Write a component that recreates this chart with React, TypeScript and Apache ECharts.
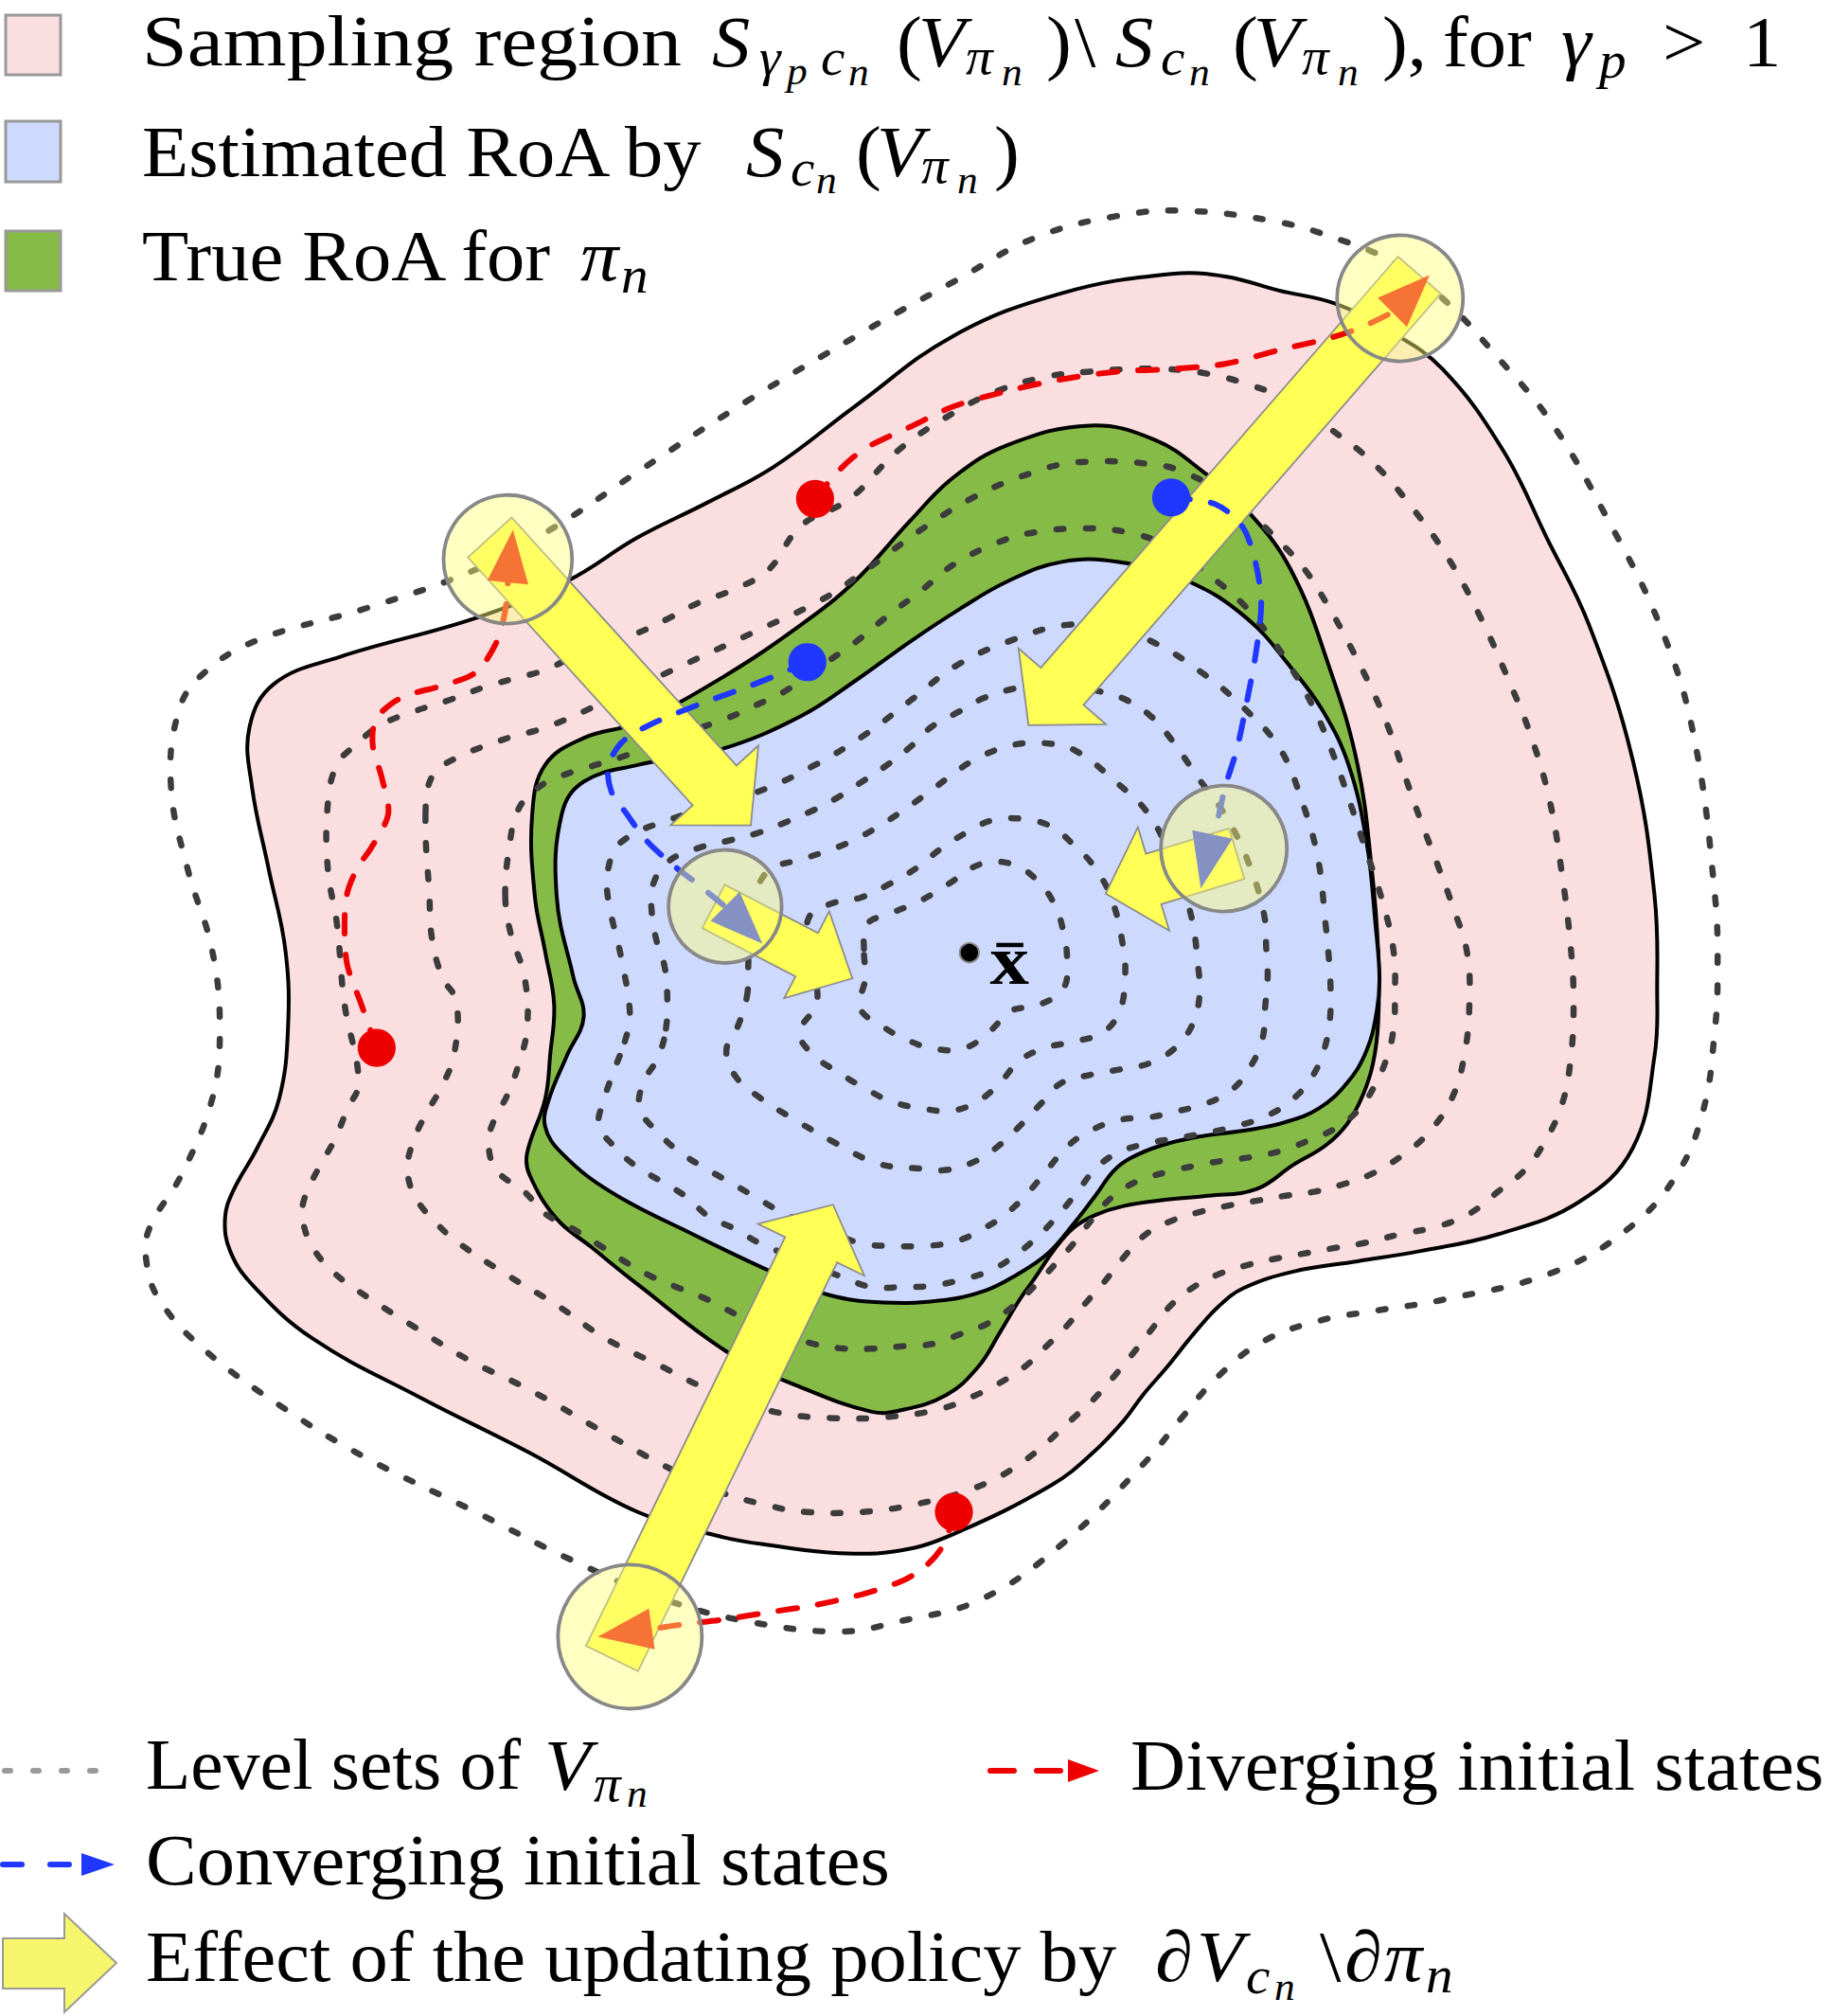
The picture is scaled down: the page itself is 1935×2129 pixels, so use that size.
import React, { useEffect, useRef } from "react";
import * as echarts from "echarts";

const CANVAS_WIDTH = 1935;
const CANVAS_HEIGHT = 2129;
const X_RANGE = 1425;
const Y_RANGE = 1568;

// ---------- regions (diagram units) ----------
const SAMPLING_REGION = [
  [196, 612], [194, 566], [213, 532], [264, 511], [369, 481], [441, 452], [496, 418], [550, 391], [602, 363],
  [665, 316], [742, 261], [826, 228], [911, 213], [953, 215], [995, 226], [1038, 236], [1080, 257], [1122, 287],
  [1169, 350], [1203, 418], [1236, 486], [1270, 591], [1287, 697], [1289, 770], [1287, 821], [1270, 893],
  [1228, 935], [1165, 960], [1105, 973], [1056, 981], [1006, 989], [967, 1002], [948, 1016], [928, 1038],
  [908, 1063], [889, 1085], [874, 1105], [850, 1130], [818, 1155], [742, 1193], [700, 1206], [653, 1208],
  [600, 1202], [560, 1195], [496, 1176], [412, 1130], [327, 1087], [243, 1041], [196, 999], [179, 973],
  [175, 948], [181, 927], [200, 893], [217, 855], [224, 800], [222, 739], [209, 676],
];
const TRUE_ROA = [
  [416, 697], [414, 633], [424, 595], [454, 574], [496, 562], [560, 528], [623, 486], [665, 452], [708, 405],
  [742, 371], [784, 346], [848, 331], [898, 342], [936, 367], [970, 397], [1004, 443], [1034, 519], [1056, 595],
  [1067, 676], [1072, 740], [1072, 795], [1068, 827], [1060, 852], [1048, 874], [1031, 891], [1006, 906],
  [977, 925], [940, 930], [908, 933], [874, 938], [852, 945], [835, 955], [820, 972], [805, 994], [793, 1011],
  [778, 1036], [761, 1063], [736, 1085], [700, 1097], [678, 1098], [623, 1079], [568, 1053], [496, 999],
  [460, 970], [433, 948], [412, 914], [410, 897], [424, 855], [428, 820], [431, 781], [424, 740],
];
const ESTIMATED_ROA = [
  [433, 697], [437, 633], [454, 608], [496, 595], [560, 583], [623, 557], [666, 529], [708, 499], [746, 474],
  [784, 452], [826, 437], [869, 437], [924, 452], [970, 481], [1004, 519], [1029, 553], [1049, 595], [1063, 655],
  [1070, 720], [1073, 760], [1071, 786], [1063, 817], [1048, 842], [1026, 862], [999, 873], [970, 879],
  [933, 884], [903, 891], [879, 901], [866, 911], [852, 930], [835, 952], [815, 975], [790, 992], [766, 1004],
  [736, 1011], [687, 1013], [644, 1007], [602, 990], [539, 960], [475, 927], [437, 897], [424, 876], [427, 855],
  [441, 821], [454, 791], [446, 760],
];

// ---------- level sets of V (innermost first) ----------
const LEVEL_SET_1 = [
  [672, 738], [674, 719], [694, 710], [717, 700], [737, 688], [763, 672], [787, 672], [806, 684], [820, 703],
  [827, 724], [830, 747], [827, 769], [807, 782], [787, 786], [770, 802], [751, 815], [728, 816], [706, 809],
  [686, 798], [669, 784], [673, 761],
];
const LEVEL_SET_2 = [
  [630, 740], [629, 714], [646, 703], [670, 698], [691, 688], [713, 675], [732, 660], [751, 648], [772, 638],
  [796, 637], [818, 643], [835, 657], [851, 674], [865, 700], [874, 739], [875, 762], [871, 786], [858, 803],
  [836, 810], [813, 815], [793, 825], [778, 842], [760, 857], [739, 864], [717, 862], [694, 857], [672, 846],
  [652, 834], [632, 820], [622, 803], [635, 781], [634, 760],
];
const LEVEL_SET_3 = [
  [581, 775], [582, 752], [583, 710], [590, 688], [601, 675], [621, 669], [643, 662], [663, 654], [683, 643],
  [703, 630], [728, 612], [748, 597], [768, 586], [790, 579], [812, 578], [835, 583], [869, 609], [894, 634],
  [911, 668], [926, 710], [932, 752], [933, 775], [927, 798], [913, 816], [894, 827], [870, 832], [848, 836],
  [826, 842], [810, 858], [794, 875], [777, 891], [759, 903], [736, 910], [717, 909], [683, 905], [650, 889],
  [620, 872], [590, 853], [572, 837], [565, 817], [574, 798],
];
const LEVEL_SET_4 = [
  [518, 800], [519, 775], [517, 752], [511, 733], [507, 710], [508, 688], [520, 670], [542, 660], [566, 654],
  [589, 648], [610, 640], [631, 631], [652, 620], [669, 609], [690, 595], [708, 581], [725, 565], [745, 554],
  [765, 543], [787, 536], [810, 533], [831, 533], [852, 537], [873, 543], [894, 556], [911, 575], [932, 605],
  [953, 634], [970, 668], [983, 710], [985, 739], [986, 761], [984, 784], [982, 808], [973, 829], [959, 847],
  [939, 858], [917, 864], [894, 869], [871, 871], [849, 879], [831, 891], [816, 908], [802, 925], [784, 943],
  [766, 955], [745, 965], [721, 969], [695, 969], [670, 967], [640, 956], [610, 944], [591, 933], [572, 922],
  [551, 910], [530, 897], [513, 882], [498, 863], [500, 843], [512, 822],
];
const LEVEL_SET_5 = [
  [486, 810], [490, 789], [483, 744], [473, 699], [473, 676], [483, 655], [525, 636], [589, 616], [632, 596],
  [672, 572], [708, 545], [745, 517], [787, 498], [830, 486], [862, 489], [894, 498], [936, 524], [970, 553],
  [996, 583], [1012, 621], [1025, 667], [1031, 718], [1034, 750], [1035, 773], [1034, 797], [1029, 819],
  [1019, 840], [1003, 857], [983, 869], [961, 876], [939, 881], [917, 885], [894, 889], [871, 896], [853, 908],
  [838, 927], [824, 944], [808, 961], [790, 976], [771, 988], [749, 995], [725, 1000], [703, 1001], [678, 1001],
  [657, 994], [615, 977], [591, 967], [572, 956], [551, 946], [534, 931], [513, 918], [496, 908], [479, 893],
  [466, 875], [470, 855], [477, 834],
];
const LEVEL_SET_6 = [
  [393, 697], [396, 660], [403, 630], [418, 613], [438, 603], [460, 596], [483, 589], [525, 573], [567, 558],
  [589, 548], [610, 538], [646, 513], [666, 499], [683, 485], [697, 474], [717, 459], [742, 439], [776, 422],
  [805, 414], [843, 411], [877, 414], [911, 426], [940, 447], [966, 469], [987, 494], [1004, 519], [1021, 549],
  [1034, 579], [1046, 612], [1060, 654], [1075, 700], [1084, 740], [1085, 778], [1084, 800], [1079, 822],
  [1070, 843], [1057, 863], [1038, 878], [1018, 887], [997, 895], [973, 900], [950, 903], [928, 907], [906, 912],
  [884, 919], [864, 932], [849, 949], [836, 966], [821, 983], [805, 1000], [788, 1016], [767, 1030], [746, 1038],
  [727, 1045], [703, 1047], [678, 1049], [657, 1049], [632, 1045], [600, 1035], [572, 1022], [551, 1011],
  [526, 1001], [505, 992], [484, 980], [467, 969], [446, 956], [424, 944], [408, 927], [386, 910], [380, 889],
  [384, 872], [395, 851], [403, 829], [410, 800], [408, 760], [397, 725],
];
const LEVEL_SET_7 = [
  [331, 633], [336, 604], [352, 591], [395, 574], [424, 566], [470, 546], [530, 518], [590, 490], [640, 466],
  [674, 443], [708, 418], [733, 401], [755, 388], [780, 376], [805, 367], [826, 361], [848, 359], [873, 359],
  [894, 361], [915, 365], [953, 384], [974, 401], [996, 422], [1015, 443], [1034, 473], [1050, 502], [1067, 536],
  [1080, 566], [1093, 604], [1105, 638], [1118, 672], [1130, 705], [1141, 740], [1143, 779], [1139, 821],
  [1129, 855], [1112, 880], [1093, 897], [1067, 913], [1045, 921], [1022, 927], [1000, 930], [977, 934],
  [954, 938], [932, 943], [910, 950], [890, 961], [874, 978], [859, 997], [844, 1014], [830, 1031], [814, 1047],
  [797, 1063], [777, 1076], [757, 1086], [731, 1096], [691, 1102], [649, 1103], [602, 1098], [556, 1083],
  [513, 1062], [471, 1041], [433, 1015], [395, 992], [357, 967], [340, 952], [323, 931], [317, 910], [321, 889],
  [331, 867], [342, 848], [353, 821], [355, 779], [344, 760], [336, 730], [334, 697],
];
const LEVEL_SET_8 = [
  [255, 676], [255, 625], [262, 595], [277, 579], [296, 564], [323, 553], [348, 545], [378, 534], [399, 528],
  [424, 521], [454, 507], [492, 494], [520, 481], [543, 469], [572, 458], [598, 443], [623, 409], [661, 388],
  [699, 350], [742, 321], [776, 304], [814, 293], [848, 289], [881, 287], [907, 287], [941, 291], [974, 300],
  [1004, 312], [1034, 333], [1067, 359], [1097, 393], [1127, 435], [1152, 481], [1173, 528], [1190, 570],
  [1205, 621], [1215, 680], [1222, 739], [1224, 779], [1222, 821], [1215, 859], [1201, 889], [1186, 910],
  [1165, 927], [1143, 944], [1118, 954], [1089, 960], [1060, 967], [1036, 971], [1014, 975], [992, 979],
  [970, 984], [948, 991], [927, 1002], [910, 1016], [895, 1035], [881, 1053], [867, 1070], [851, 1088],
  [836, 1102], [797, 1136], [759, 1157], [712, 1170], [670, 1176], [627, 1176], [602, 1172], [556, 1159],
  [513, 1138], [475, 1117], [412, 1081], [365, 1058], [319, 1030], [277, 1003], [260, 990], [245, 973],
  [236, 952], [236, 935], [247, 910], [260, 887], [270, 863], [279, 842], [268, 781], [262, 718],
];
const LEVEL_SET_9 = [
  [133, 612], [139, 553], [158, 524], [200, 498], [285, 473], [370, 443], [433, 409], [496, 367], [581, 312],
  [665, 262], [700, 242], [742, 219], [805, 185], [869, 168], [924, 164], [996, 173], [1038, 185], [1080, 202],
  [1122, 232], [1165, 278], [1207, 329], [1249, 401], [1291, 486], [1317, 570], [1334, 697], [1336, 760],
  [1334, 800], [1325, 863], [1304, 914], [1266, 956], [1207, 990], [1122, 1011], [1073, 1019], [1027, 1027],
  [983, 1043], [948, 1070], [919, 1103], [890, 1138], [826, 1201], [763, 1244], [700, 1261], [653, 1269],
  [581, 1261], [517, 1244], [446, 1214], [370, 1176], [285, 1134], [222, 1096], [158, 1049], [124, 1011],
  [114, 982], [116, 956], [141, 914], [165, 855], [171, 800], [165, 739], [146, 676],
];

// ---------- trajectories ----------
const DIVERGING_PATH_1 = [
  [634, 388], [648, 371], [662, 357], [678, 346], [708, 332], [742, 316], [784, 304], [826, 295], [869, 289],
  [911, 287], [953, 283], [996, 272], [1034, 263], [1058, 255], [1083, 243],
];
const DIVERGING_TIP_1 = [1112, 214];
const DIVERGING_PATH_2 = [
  [293, 815], [281, 781], [270, 750], [268, 720], [270, 695], [278, 675], [289, 659], [302, 633], [297, 605],
  [290, 580], [292, 560], [305, 547], [319, 540], [345, 533], [370, 523], [386, 500], [393, 475], [395, 453],
];
const DIVERGING_TIP_2 = [399, 412];
const DIVERGING_PATH_3 = [
  [742, 1176], [738, 1191], [731, 1206], [720, 1218], [703, 1229], [674, 1239], [636, 1248], [598, 1254],
  [560, 1260], [534, 1263], [507, 1267],
];
const DIVERGING_TIP_3 = [465, 1273];
const CONVERGING_PATH_1 = [
  [628, 515], [607, 524], [582, 534], [546, 547], [505, 564], [483, 578], [473, 597], [476, 617], [486, 631],
  [503, 654], [525, 674], [538, 684], [564, 705],
];
const CONVERGING_TIP_1 = [593, 734];
const CONVERGING_PATH_2 = [
  [911, 387], [945, 392], [966, 409], [976, 435], [981, 469], [977, 507], [970, 545], [962, 583], [953, 612],
  [947, 638], [943, 649],
];
const CONVERGING_TIP_2 = [934, 691];
const DIVERGING_STARTS = [[634, 388], [293, 815], [742, 1176]];
const CONVERGING_STARTS = [[628, 515], [911, 387]];

// ---------- policy update arrows ----------
const ARROW_TAILS = [[381, 418], [1104, 214], [476, 1290], [555, 705], [962, 664]];
const ARROW_TIPS = [[584, 642], [800, 564], [648, 937], [663, 761], [860, 695]];
const CIRCLE_CENTERS = [[395, 435], [1089, 232], [490, 1273], [564, 705], [952, 660]];
const CIRCLE_RADII = [50, 49, 56, 44, 49];
const EQUILIBRIUM = [754, 741];

// ---------- styles ----------
const ARROW_SHAFT = [46, 44, 45, 38, 41];
const ARROW_HEAD = [92, 90, 92, 76, 84];
const ARROW_HEAD_LEN = [42, 40, 39, 40, 39];
const PINK = "#FADEE0";
const BLUE = "#CED9FE";
const GREEN = "#86BB47";
const YELLOW = "#FFFF55";
const RED = "#EE0000";
const TRAJ_BLUE = "#1F37FF";
const LEVEL_GREY = "#3c3c3c";
const SERIF = "Liberation Serif, Times New Roman, serif";

const REGIONS = [
  { points: SAMPLING_REGION, fill: PINK },
  { points: TRUE_ROA, fill: GREEN },
  { points: ESTIMATED_ROA, fill: BLUE },
];
const LEVEL_SETS = [LEVEL_SET_9, LEVEL_SET_8, LEVEL_SET_7, LEVEL_SET_6, LEVEL_SET_5, LEVEL_SET_4, LEVEL_SET_3, LEVEL_SET_2, LEVEL_SET_1];
const TRAJECTORIES = [
  { path: DIVERGING_PATH_1, tip: DIVERGING_TIP_1, color: RED },
  { path: DIVERGING_PATH_2, tip: DIVERGING_TIP_2, color: RED },
  { path: DIVERGING_PATH_3, tip: DIVERGING_TIP_3, color: RED },
  { path: CONVERGING_PATH_1, tip: CONVERGING_TIP_1, color: TRAJ_BLUE },
  { path: CONVERGING_PATH_2, tip: CONVERGING_TIP_2, color: TRAJ_BLUE },
];
const DOTS = [
  ...DIVERGING_STARTS.map((p) => ({ p, color: RED })),
  ...CONVERGING_STARTS.map((p) => ({ p, color: TRAJ_BLUE })),
];

function dir(a: number[], b: number[]) {
  const dx = b[0] - a[0];
  const dy = b[1] - a[1];
  const l = Math.hypot(dx, dy) || 1;
  return [dx / l, dy / l];
}

function blockArrow(tail: number[], tip: number[], shaft: number, head: number, headLen: number) {
  const [ux, uy] = dir(tail, tip);
  const nx = -uy;
  const ny = ux;
  const bx = tip[0] - ux * headLen;
  const by = tip[1] - uy * headLen;
  const s = shaft / 2;
  const h = head / 2;
  return [
    [tail[0] + nx * s, tail[1] + ny * s],
    [bx + nx * s, by + ny * s],
    [bx + nx * h, by + ny * h],
    [tip[0], tip[1]],
    [bx - nx * h, by - ny * h],
    [bx - nx * s, by - ny * s],
    [tail[0] - nx * s, tail[1] - ny * s],
  ];
}

function label(x: number, baseline: number, text: string, size: number, italic = false, stretch = 1.06) {
  return {
    type: "text",
    x,
    y: baseline - size * 0.34,
    scaleX: stretch,
    silent: true,
    style: {
      text,
      fontSize: size,
      fontFamily: SERIF,
      fontStyle: italic ? "italic" : "normal",
      fill: "#000",
      align: "left",
      verticalAlign: "middle",
    },
  };
}

const F = 76;
const SUB = 54;
const SUBSUB = 41;
const B1 = 70;
const B2 = 186;
const B3 = 296;

const legendElements: any[] = [
  { type: "rect", shape: { x: 6, y: 16, width: 58, height: 63 }, style: { fill: PINK, stroke: "#999", lineWidth: 3 } },
  { type: "rect", shape: { x: 6, y: 128, width: 58, height: 64 }, style: { fill: BLUE, stroke: "#999", lineWidth: 3 } },
  { type: "rect", shape: { x: 6, y: 244, width: 58, height: 63 }, style: { fill: GREEN, stroke: "#999", lineWidth: 3 } },
  // line 1
  label(150, B1, "Sampling region", F, false, 1.13),
  label(752, B1, "S", F, true),
  label(802, B1 + 9, "γ", SUB, true),
  label(831, B1 + 19, "p", SUBSUB, true),
  label(867, B1 + 9, "c", SUB, true),
  label(896, B1 + 20, "n", SUBSUB, true),
  label(947, B1, "(", F),
  label(970, B1, "V", F, true),
  label(1020, B1 + 8, "π", SUB, true),
  label(1058, B1 + 20, "n", SUBSUB, true),
  label(1105, B1, ")", F),
  label(1135, B1, "\\", F),
  label(1178, B1, "S", F, true),
  label(1226, B1 + 9, "c", SUB, true),
  label(1256, B1 + 20, "n", SUBSUB, true),
  label(1302, B1, "(", F),
  label(1324, B1, "V", F, true),
  label(1375, B1 + 8, "π", SUB, true),
  label(1413, B1 + 20, "n", SUBSUB, true),
  label(1460, B1, "),", F),
  label(1524, B1, "for", F),
  label(1649, B1, "γ", F, true),
  label(1689, B1 + 12, "p", SUB, true),
  label(1756, B1, ">", F),
  label(1841, B1, "1", F),
  // line 2
  label(150, B2, "Estimated RoA by", F),
  label(788, B2, "S", F, true),
  label(835, B2 + 10, "c", SUB, true),
  label(862, B2 + 18, "n", SUBSUB, true),
  label(904, B2, "(", F),
  label(926, B2, "V", F, true),
  label(973, B2 + 7, "π", SUB, true),
  label(1011, B2 + 18, "n", SUBSUB, true),
  label(1050, B2, ")", F),
  // line 3
  label(150, B3, "True RoA for", F),
  label(613, B3, "π", F, true),
  label(656, B3 + 13, "n", SUB, true),
  // bottom legend
  {
    type: "polyline",
    shape: { points: [[5, 1870], [105, 1870]] },
    style: { stroke: "#9a9a9a", lineWidth: 6, lineDash: [6, 24], lineCap: "round", fill: "none" },
  },
  label(154, 1890, "Level sets of", F, false, 1.02),
  label(575, 1890, "V", F, true),
  label(627, 1902, "π", SUB, true),
  label(662, 1908, "n", SUBSUB, true),
  {
    type: "polyline",
    shape: { points: [[1046, 1870], [1126, 1870]] },
    style: { stroke: RED, lineWidth: 6, lineDash: [25, 24], lineCap: "round", fill: "none" },
  },
  { type: "polygon", shape: { points: [[1128, 1858], [1161, 1870], [1128, 1882]] }, style: { fill: RED } },
  label(1194, 1890, "Diverging initial states", F),
  {
    type: "polyline",
    shape: { points: [[3, 1969], [80, 1969]] },
    style: { stroke: TRAJ_BLUE, lineWidth: 6, lineDash: [20, 30], lineCap: "round", fill: "none" },
  },
  { type: "polygon", shape: { points: [[86, 1957], [121, 1969], [86, 1981]] }, style: { fill: TRAJ_BLUE } },
  label(154, 1990, "Converging initial states", F),
  {
    type: "polygon",
    shape: {
      points: [[3, 2047], [68, 2047], [68, 2021], [123, 2073], [68, 2125], [68, 2100], [3, 2100]],
    },
    style: { fill: "#F6F66C", stroke: "#999", lineWidth: 2 },
  },
  label(154, 2092, "Effect of the updating policy by", F),
  label(1220, 2092, "∂", F),
  label(1264, 2092, "V", F, true),
  label(1316, 2105, "c", SUB, true),
  label(1346, 2112, "n", SUBSUB, true),
  label(1394, 2092, "\\", F),
  label(1420, 2092, "∂", F),
  label(1462, 2092, "π", F, true),
  label(1506, 2104, "n", SUB, true),
];

const option: any = {
  animation: false,
  backgroundColor: "#ffffff",
  grid: { left: 0, right: 0, top: 0, bottom: 0, containLabel: false },
  xAxis: { type: "value", min: 0, max: X_RANGE, show: false },
  yAxis: { type: "value", min: 0, max: Y_RANGE, inverse: true, show: false },
  tooltip: { show: false },
  series: [
    {
      type: "custom",
      name: "regions",
      coordinateSystem: "cartesian2d",
      z: 1,
      silent: true,
      data: REGIONS.map((_, i) => [i, 0]),
      renderItem: (params: any, api: any) => {
        const r = REGIONS[params.dataIndex];
        return {
          type: "polygon",
          shape: { points: r.points.map((p) => api.coord(p)), smooth: 0.4 },
          style: { fill: r.fill, stroke: "#000", lineWidth: 4 },
        };
      },
    },
    {
      type: "custom",
      name: "level sets",
      coordinateSystem: "cartesian2d",
      z: 2,
      silent: true,
      data: LEVEL_SETS.map((_, i) => [i, 0]),
      renderItem: (params: any, api: any) => {
        const pts = LEVEL_SETS[params.dataIndex];
        return {
          type: "polygon",
          shape: { points: pts.map((p) => api.coord(p)), smooth: 0.4 },
          style: { fill: "none", stroke: LEVEL_GREY, lineWidth: 6.5, lineDash: [7.5, 23.5], lineCap: "round" },
        };
      },
    },
    {
      type: "custom",
      name: "policy arrows",
      coordinateSystem: "cartesian2d",
      z: 3,
      silent: true,
      data: ARROW_TAILS.map((_, i) => [i, 0]),
      renderItem: (params: any, api: any) => {
        const i = params.dataIndex;
        const poly = blockArrow(ARROW_TAILS[i], ARROW_TIPS[i], ARROW_SHAFT[i], ARROW_HEAD[i], ARROW_HEAD_LEN[i]);
        return {
          type: "polygon",
          shape: { points: poly.map((p) => api.coord(p)) },
          style: { fill: YELLOW, stroke: "#8c8c8c", lineWidth: 1.8 },
        };
      },
    },
    {
      type: "custom",
      name: "trajectories",
      coordinateSystem: "cartesian2d",
      z: 4,
      silent: true,
      data: TRAJECTORIES.map((_, i) => [i, 0]),
      renderItem: (params: any, api: any) => {
        const t = TRAJECTORIES[params.dataIndex];
        const base = t.path[t.path.length - 1];
        const [ux, uy] = dir(base, t.tip);
        const hw = 16;
        const head = [
          [t.tip[0], t.tip[1]],
          [base[0] - uy * hw, base[1] + ux * hw],
          [base[0] + uy * hw, base[1] - ux * hw],
        ];
        return {
          type: "group",
          children: [
            {
              type: "polyline",
              shape: { points: t.path.map((p) => api.coord(p)), smooth: 0.3 },
              style: { fill: "none", stroke: t.color, lineWidth: 6, lineDash: [20, 22], lineCap: "round" },
            },
            {
              type: "polygon",
              shape: { points: head.map((p) => api.coord(p)) },
              style: { fill: t.color },
            },
          ],
        };
      },
    },
    {
      type: "custom",
      name: "initial states",
      coordinateSystem: "cartesian2d",
      z: 5,
      silent: true,
      data: DOTS.map((_, i) => [i, 0]),
      renderItem: (params: any, api: any) => {
        const d = DOTS[params.dataIndex];
        const c = api.coord(d.p);
        return {
          type: "circle",
          shape: { cx: c[0], cy: c[1], r: api.size([14.8, 0])[0] },
          style: { fill: d.color },
        };
      },
    },
    {
      type: "custom",
      name: "circles",
      coordinateSystem: "cartesian2d",
      z: 6,
      silent: true,
      data: CIRCLE_CENTERS.map((_, i) => [i, 0]),
      renderItem: (params: any, api: any) => {
        const i = params.dataIndex;
        const c = api.coord(CIRCLE_CENTERS[i]);
        return {
          type: "circle",
          shape: { cx: c[0], cy: c[1], r: api.size([CIRCLE_RADII[i], 0])[0] },
          style: { fill: "rgba(255,255,120,0.45)", stroke: "#888888", lineWidth: 3.8 },
        };
      },
    },
    {
      type: "custom",
      name: "equilibrium",
      coordinateSystem: "cartesian2d",
      z: 7,
      silent: true,
      data: [[0, 0]],
      renderItem: (params: any, api: any) => {
        const c = api.coord(EQUILIBRIUM);
        const lab = api.coord([EQUILIBRIUM[0] + 16, EQUILIBRIUM[1] + 24]);
        const bar0 = api.coord([EQUILIBRIUM[0] + 21, EQUILIBRIUM[1] - 6]);
        const bar1 = api.coord([EQUILIBRIUM[0] + 42, EQUILIBRIUM[1] - 6]);
        return {
          type: "group",
          children: [
            {
              type: "circle",
              shape: { cx: c[0], cy: c[1], r: api.size([7.5, 0])[0] },
              style: { fill: "#000", stroke: "#888", lineWidth: 2 },
            },
            {
              type: "text",
              x: lab[0],
              y: lab[1] - 74 * 0.34,
              scaleX: 1.12,
              style: {
                text: "x",
                fontSize: 74,
                fontFamily: SERIF,
                fontWeight: "bold",
                fill: "#000",
                align: "left",
                verticalAlign: "middle",
              },
            },
            {
              type: "line",
              shape: { x1: bar0[0], y1: bar0[1], x2: bar1[0], y2: bar1[1] },
              style: { stroke: "#000", lineWidth: 4.5 },
            },
          ],
        };
      },
    },
  ],
  graphic: { elements: legendElements },
};

export default function App() {
  const ref = useRef<HTMLDivElement>(null);
  useEffect(() => {
    document.body.style.margin = "0";
    document.body.style.overflow = "hidden";
    document.documentElement.style.overflow = "hidden";
    const chart = echarts.init(ref.current as HTMLDivElement, null, { renderer: "svg" });
    chart.setOption(option);
    return () => {
      chart.dispose();
    };
  }, []);
  return <div ref={ref} style={{ width: CANVAS_WIDTH, height: CANVAS_HEIGHT, background: "#fff" }} />;
}
